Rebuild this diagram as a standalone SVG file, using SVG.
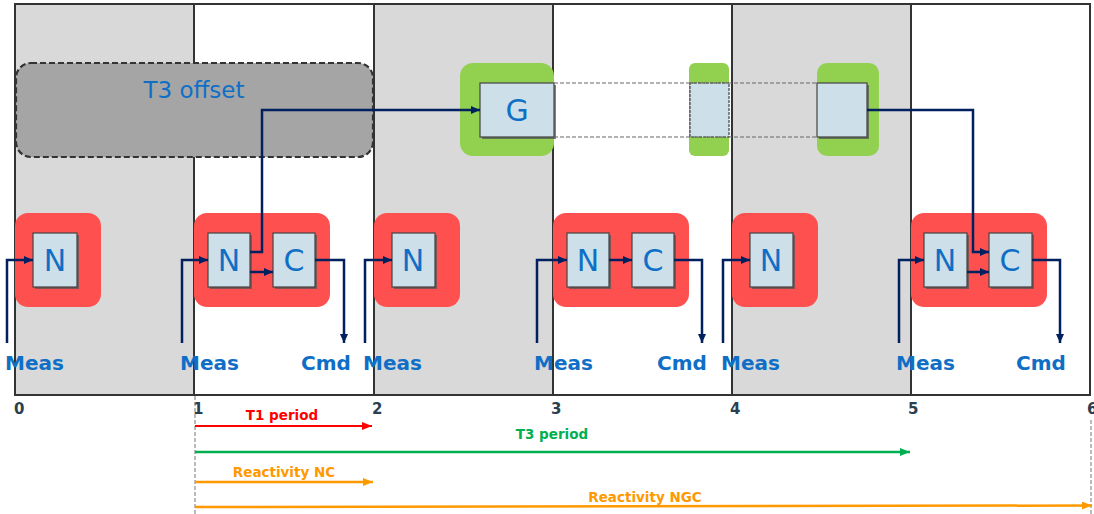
<svg xmlns="http://www.w3.org/2000/svg" width="1094" height="514" viewBox="0 0 1094 514">
<style>
.gcol{fill:#d9d9d9}
.frame{fill:none;stroke:#333;stroke-width:2}
.red{fill:#ff5050}
.grn{fill:#92d050}
.box{fill:#cddfe8;stroke:#444;stroke-width:1.2}
.shd{fill:#555;opacity:0.75}
.lbl{font-family:"DejaVu Sans",sans-serif;font-size:30px;fill:#0f6fc6;text-anchor:middle}
.io{font-family:"DejaVu Sans",sans-serif;font-size:20px;font-weight:bold;fill:#0f6fc6}
.num{font-family:"DejaVu Sans",sans-serif;font-size:15px;font-weight:bold;fill:#2b3f4f}
.per{font-family:"DejaVu Sans",sans-serif;font-size:13.5px;font-weight:bold;text-anchor:middle}
.con{fill:none;stroke:#002060;stroke-width:2.5}
.dash{fill:none;stroke:#666;stroke-width:1;stroke-dasharray:4,2}
</style>
<defs>
<marker id="an" markerUnits="userSpaceOnUse" markerWidth="9" markerHeight="8" refX="9" refY="4" orient="auto"><path d="M0,0 L9,4 L0,8 z" fill="#002060"/></marker>
<marker id="ar" markerUnits="userSpaceOnUse" markerWidth="10" markerHeight="8" refX="10" refY="4" orient="auto"><path d="M0,0 L10,4 L0,8 z" fill="#ff0000"/></marker>
<marker id="ag" markerUnits="userSpaceOnUse" markerWidth="10" markerHeight="8" refX="10" refY="4" orient="auto"><path d="M0,0 L10,4 L0,8 z" fill="#00b050"/></marker>
<marker id="ao" markerUnits="userSpaceOnUse" markerWidth="10" markerHeight="8" refX="10" refY="4" orient="auto"><path d="M0,0 L10,4 L0,8 z" fill="#ff9900"/></marker>
</defs>
<rect width="1094" height="514" fill="#fff"/>
<g id="timeline">
<rect class="gcol" x="15" y="4" width="179" height="391"/>
<rect class="gcol" x="374" y="4" width="179" height="391"/>
<rect class="gcol" x="732" y="4" width="179" height="391"/>
<rect class="frame" x="15" y="4" width="1075" height="391"/>
<path d="M194,4V395M374,4V395M553,4V395M732,4V395M911,4V395" stroke="#333" stroke-width="2" fill="none"/>
<text class="num" x="14" y="414">0</text>
<text class="num" x="193" y="414">1</text>
<text class="num" x="372" y="414">2</text>
<text class="num" x="551" y="414">3</text>
<text class="num" x="730" y="414">4</text>
<text class="num" x="908" y="414">5</text>
<text class="num" x="1087" y="414">6</text>
</g>
<g id="t3offset">
<rect x="16" y="63" width="357" height="94" rx="15" fill="#a5a5a5" stroke="#333" stroke-width="2.2" stroke-dasharray="6,3"/>
<text x="194" y="98" font-family="DejaVu Sans, sans-serif" font-size="23" fill="#0f6fc6" text-anchor="middle">T3 offset</text>
</g>
<g id="G">
<rect class="grn" x="460" y="63" width="94" height="93" rx="13"/>
<rect class="shd" x="482" y="85" width="74" height="54"/>
<rect class="box" x="480" y="83" width="74" height="54"/>
<text class="lbl" x="517" y="121">G</text>
</g>
<g id="G2">
<rect class="grn" x="689" y="63" width="40" height="93" rx="6"/>
<rect class="box" x="690" y="83" width="39" height="54" stroke-dasharray="3,1"/>
</g>
<g id="G3">
<rect class="grn" x="817" y="63" width="62" height="93" rx="10"/>
<rect class="shd" x="819" y="85" width="50" height="54"/>
<rect class="box" x="817" y="83" width="50" height="54"/>
</g>
<path class="dash" d="M554,83H817M554,137H817"/>
<g id="n0">
<rect class="red" x="15" y="213" width="86" height="94" rx="13"/>
<rect class="shd" x="35" y="235" width="44" height="54"/>
<rect class="box" x="33" y="233" width="44" height="54"/>
<text class="lbl" x="55" y="271">N</text>
</g>
<g id="n1">
<rect class="red" x="194" y="213" width="136" height="94" rx="13"/>
<rect class="shd" x="210" y="235" width="42" height="54"/>
<rect class="box" x="208" y="233" width="42" height="54"/>
<text class="lbl" x="229" y="271">N</text>
<rect class="shd" x="275" y="235" width="42" height="54"/>
<rect class="box" x="273" y="233" width="42" height="54"/>
<text class="lbl" x="294" y="271">C</text>
</g>
<g id="n2">
<rect class="red" x="374" y="213" width="86" height="94" rx="13"/>
<rect class="shd" x="394" y="235" width="43" height="54"/>
<rect class="box" x="392" y="233" width="43" height="54"/>
<text class="lbl" x="413" y="271">N</text>
</g>
<g id="n3">
<rect class="red" x="553" y="213" width="136" height="94" rx="13"/>
<rect class="shd" x="569" y="235" width="42" height="54"/>
<rect class="box" x="567" y="233" width="42" height="54"/>
<text class="lbl" x="588" y="271">N</text>
<rect class="shd" x="634" y="235" width="42" height="54"/>
<rect class="box" x="632" y="233" width="42" height="54"/>
<text class="lbl" x="653" y="271">C</text>
</g>
<g id="n4">
<rect class="red" x="732" y="213" width="86" height="94" rx="13"/>
<rect class="shd" x="752" y="235" width="43" height="54"/>
<rect class="box" x="750" y="233" width="43" height="54"/>
<text class="lbl" x="771" y="271">N</text>
</g>
<g id="n5">
<rect class="red" x="911" y="213" width="136" height="94" rx="13"/>
<rect class="shd" x="926" y="235" width="43" height="54"/>
<rect class="box" x="924" y="233" width="43" height="54"/>
<text class="lbl" x="945" y="271">N</text>
<rect class="shd" x="991" y="235" width="43" height="54"/>
<rect class="box" x="989" y="233" width="43" height="54"/>
<text class="lbl" x="1010" y="271">C</text>
</g>
<g id="connectors">
<path class="con" marker-end="url(#an)" d="M7,343V260H33"/>
<path class="con" marker-end="url(#an)" d="M182,343V260H208"/>
<path class="con" marker-end="url(#an)" d="M365,343V260H392"/>
<path class="con" marker-end="url(#an)" d="M537,343V260H567"/>
<path class="con" marker-end="url(#an)" d="M723,343V260H750"/>
<path class="con" marker-end="url(#an)" d="M899,343V260H924"/>
<path class="con" marker-end="url(#an)" d="M250,272H273"/>
<path class="con" marker-end="url(#an)" d="M609,260H632"/>
<path class="con" marker-end="url(#an)" d="M967,272H989"/>
<path class="con" marker-end="url(#an)" d="M250,252H262V110H480"/>
<path class="con" marker-end="url(#an)" d="M867,110H973V252H989"/>
<path class="con" marker-end="url(#an)" d="M315,260H344V343"/>
<path class="con" marker-end="url(#an)" d="M674,260H702V343"/>
<path class="con" marker-end="url(#an)" d="M1032,260H1060V343"/>
</g>
<g id="io-labels">
<text class="io" x="5" y="370">Meas</text>
<text class="io" x="180" y="370">Meas</text>
<text class="io" x="301" y="370">Cmd</text>
<text class="io" x="363" y="370">Meas</text>
<text class="io" x="534" y="370">Meas</text>
<text class="io" x="657" y="370">Cmd</text>
<text class="io" x="721" y="370">Meas</text>
<text class="io" x="896" y="370">Meas</text>
<text class="io" x="1016" y="370">Cmd</text>
</g>
<g id="periods">
<path d="M195,396V514M1091,420V514" stroke="#777" stroke-width="1" stroke-dasharray="4,2" fill="none"/>
<path d="M195,426H372" stroke="#ff0000" stroke-width="2" marker-end="url(#ar)"/>
<text class="per" x="282" y="420" fill="#ff0000">T1 period</text>
<path d="M195,452H910" stroke="#00b050" stroke-width="2.5" marker-end="url(#ag)"/>
<text class="per" x="552" y="439" fill="#00b050">T3 period</text>
<path d="M195,482H373" stroke="#ff9900" stroke-width="2.5" marker-end="url(#ao)"/>
<text class="per" x="284" y="477" fill="#ff9900">Reactivity NC</text>
<path d="M195,507L1092,505.5" stroke="#ff9900" stroke-width="2.5" marker-end="url(#ao)"/>
<text class="per" x="645" y="502" fill="#ff9900">Reactivity NGC</text>
</g>
</svg>
